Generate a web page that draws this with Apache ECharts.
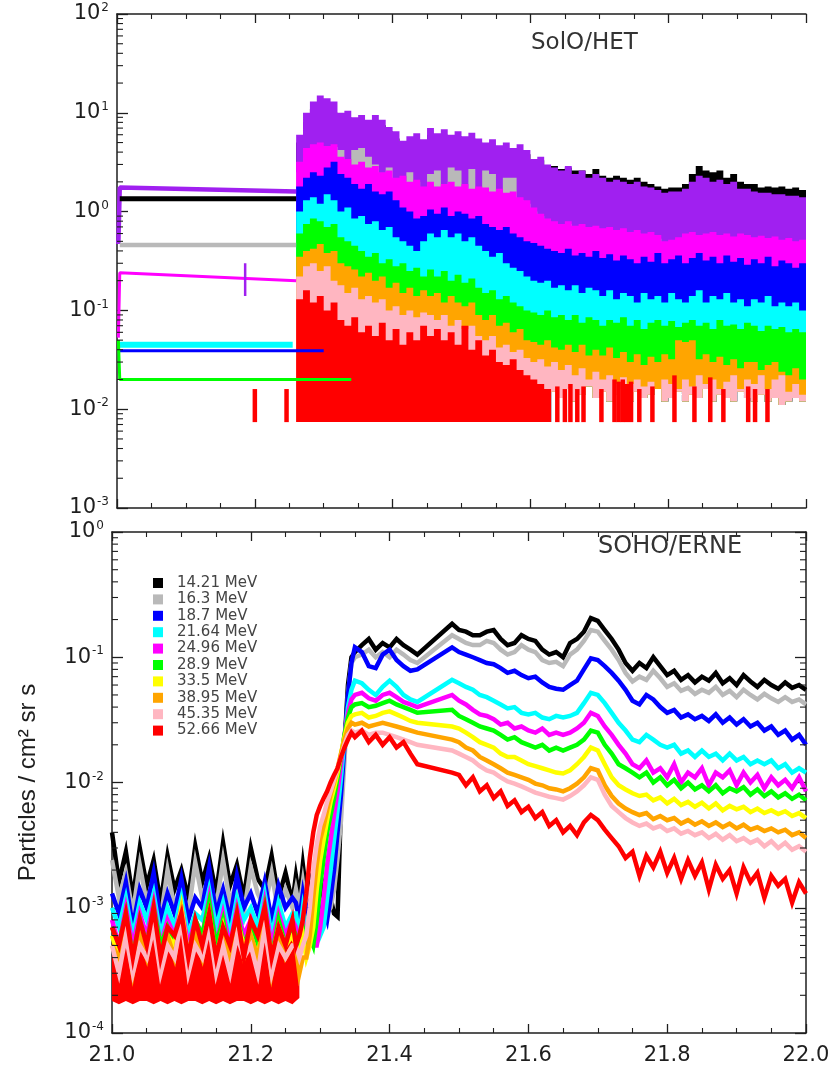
<!DOCTYPE html>
<html>
<head>
<meta charset="utf-8">
<title>SolO/HET and SOHO/ERNE proton intensities</title>
<script src="https://cdn.jsdelivr.net/npm/echarts/dist/echarts.min.js"></script>
<style>
  html, body { margin: 0; padding: 0; background: #ffffff; }
  #chart { width: 833px; height: 1079px; }
</style>
</head>
<body>
<div id="chart"></div>
<script>
// ---------------- SolO/HET (upper panel) ----------------
// bin centres (day of month), each bin 0.01 day wide
const hetTime = [
  21.265,21.275,21.285,21.295,21.305,21.315,21.325,21.335,21.345,21.355,
  21.365,21.375,21.385,21.395,21.405,21.415,21.425,21.435,21.445,21.455,
  21.465,21.475,21.485,21.495,21.505,21.515,21.525,21.535,21.545,21.555,
  21.565,21.575,21.585,21.595,21.605,21.615,21.625,21.635,21.645,21.655,
  21.665,21.675,21.685,21.695,21.705,21.715,21.725,21.735,21.745,21.755,
  21.765,21.775,21.785,21.795,21.805,21.815,21.825,21.835,21.845,21.855,
  21.865,21.875,21.885,21.895,21.905,21.915,21.925,21.935,21.945,21.955,
  21.965,21.975,21.985,21.995
];
// upper envelope of each channel per bin
const hetBlack = [
  5,8,11,12,11,10,8.5,9,7.5,8,
  7,8,7.5,6.5,5.5,4.5,5,5.2,4.8,6,
  5.5,6,5.2,5.8,5,5.5,5.0,4.5,4.6,4.0,
  4.3,4.0,4.2,3.8,3.0,3.3,2.9,2.9,2.7,2.8,
  2.6,2.6,2.4,2.7,2.3,2.2,2.3,2.2,2.1,2.2,
  2.0,1.9,1.8,1.7,1.75,1.75,1.9,2.4,2.9,2.6,
  2.5,2.6,2.2,2.4,2.0,1.9,1.9,1.75,1.8,1.75,
  1.8,1.7,1.75,1.65
];
const hetPurple = [
  6,10,13,15,14,13,10,10.5,9,9.5,
  8.5,9.5,8.5,7.2,6.5,5.2,5.8,6.2,5.4,7.0,
  6.2,6.8,6.0,6.5,5.8,6.3,5.5,5.0,5.4,4.7,
  5.0,4.4,4.8,4.2,3.4,3.6,3.0,2.8,2.6,2.9,
  2.4,2.6,2.2,2.4,2.2,2.0,2.1,2.0,1.9,2.0,
  1.8,1.75,1.65,1.55,1.6,1.6,1.7,2.0,2.3,2.2,
  2.0,2.1,1.9,2.0,1.7,1.7,1.6,1.55,1.55,1.5,
  1.5,1.45,1.45,1.4
];
const hetGrey = [
  2.5,3.5,4.0,4.2,4.0,4.5,4.2,3.0,4.2,4.4,
  3.6,3.0,2.4,2.8,2.0,2.0,2.5,2.0,1.7,2.4,
  2.6,1.7,2.8,2.6,1.7,2.7,1.6,2.6,2.4,1.5,
  2.2,2.2,1.3,1.2,1.0,0.9,0.8,0.75,0.7,0.75,
  0.68,0.7,0.65,0.68,0.62,0.65,0.6,0.62,0.58,0.6,
  0.55,0.57,0.53,0.46,0.48,0.5,0.55,0.57,0.53,0.55,
  0.57,0.53,0.55,0.5,0.55,0.53,0.5,0.52,0.5,0.5,
  0.48,0.5,0.46,0.48
];
const hetMagenta = [
  3.2,4.4,4.8,5.0,4.6,4.8,3.6,3.4,3.0,3.2,
  2.8,2.9,2.5,2.6,2.2,2.3,2.0,2.1,1.8,2.0,
  1.8,1.9,2.0,1.8,1.9,1.7,1.8,1.75,1.6,1.7,
  1.55,1.6,1.4,1.3,1.1,0.95,0.85,0.8,0.75,0.8,
  0.72,0.75,0.7,0.72,0.68,0.7,0.65,0.68,0.62,0.65,
  0.6,0.62,0.58,0.5,0.52,0.55,0.6,0.62,0.58,0.6,
  0.62,0.58,0.6,0.56,0.6,0.58,0.55,0.57,0.54,0.56,
  0.52,0.54,0.5,0.52
];
const hetBlue = [
  1.8,2.2,2.5,2.3,2.8,3.2,2.4,2.2,1.9,1.7,
  1.9,1.6,1.5,1.6,1.3,1.1,1.0,0.85,0.9,1.05,
  0.95,1.1,0.9,1.0,0.95,0.85,0.9,0.75,0.7,0.65,
  0.7,0.6,0.55,0.5,0.48,0.45,0.42,0.4,0.38,0.42,
  0.36,0.38,0.35,0.4,0.34,0.37,0.32,0.36,0.33,0.3,
  0.35,0.31,0.38,0.3,0.33,0.36,0.3,0.34,0.38,0.32,
  0.35,0.3,0.36,0.31,0.34,0.29,0.33,0.3,0.35,0.28,
  0.32,0.3,0.27,0.3
];
const hetCyan = [
  1.0,1.3,1.4,1.2,1.5,1.3,1.0,1.1,0.85,0.9,
  0.75,0.8,0.65,0.7,0.55,0.5,0.45,0.4,0.5,0.6,
  0.55,0.65,0.55,0.6,0.5,0.55,0.45,0.4,0.35,0.38,
  0.3,0.27,0.25,0.22,0.2,0.19,0.2,0.17,0.18,0.16,
  0.18,0.15,0.17,0.16,0.14,0.16,0.13,0.15,0.14,0.12,
  0.15,0.13,0.14,0.12,0.15,0.13,0.12,0.14,0.16,0.12,
  0.14,0.13,0.15,0.12,0.13,0.11,0.13,0.12,0.14,0.11,
  0.12,0.11,0.12,0.1
];
const hetGreen = [
  0.6,0.75,0.85,0.8,0.7,0.75,0.55,0.5,0.45,0.4,
  0.35,0.38,0.3,0.33,0.28,0.3,0.25,0.27,0.22,0.26,
  0.22,0.25,0.2,0.23,0.19,0.21,0.17,0.15,0.16,0.13,
  0.14,0.12,0.11,0.1,0.095,0.09,0.1,0.085,0.09,0.08,
  0.09,0.075,0.085,0.08,0.07,0.08,0.075,0.085,0.07,0.08,
  0.065,0.075,0.08,0.07,0.078,0.068,0.075,0.08,0.07,0.075,
  0.065,0.08,0.07,0.072,0.065,0.075,0.07,0.062,0.07,0.065,
  0.068,0.06,0.065,0.06
];
const hetOrange = [
  0.35,0.4,0.42,0.47,0.38,0.4,0.3,0.28,0.26,0.22,
  0.24,0.2,0.22,0.17,0.19,0.15,0.17,0.14,0.16,0.14,
  0.15,0.12,0.14,0.12,0.11,0.12,0.09,0.08,0.09,0.07,
  0.075,0.06,0.065,0.05,0.048,0.045,0.05,0.042,0.04,0.045,
  0.038,0.045,0.035,0.04,0.035,0.042,0.033,0.038,0.03,0.036,
  0.028,0.034,0.03,0.036,0.032,0.05,0.048,0.05,0.032,0.036,
  0.03,0.034,0.028,0.032,0.026,0.03,0.03,0.025,0.028,0.03,
  0.024,0.022,0.026,0.02
];
const hetPink = [
  0.22,0.28,0.3,0.25,0.28,0.2,0.18,0.15,0.17,0.13,
  0.14,0.12,0.13,0.1,0.11,0.09,0.1,0.085,0.095,0.09,
  0.08,0.09,0.07,0.08,0.065,0.07,0.055,0.05,0.055,0.042,
  0.045,0.038,0.04,0.033,0.03,0.032,0.027,0.03,0.025,0.028,
  0.022,0.026,0.02,0.024,0.02,0.022,0.018,0.021,0.018,0.02,
  0.017,0.019,0.016,0.02,0.018,0.016,0.02,0.017,0.022,0.018,
  0.02,0.016,0.019,0.022,0.016,0.02,0.018,0.022,0.016,0.02,
  0.022,0.015,0.018,0.014
];
// red channel is continuous only up to 21.63, afterwards isolated counts
const hetRed = [
  0.13,0.16,0.12,0.14,0.1,0.12,0.08,0.07,0.085,0.06,
  0.07,0.055,0.075,0.05,0.065,0.045,0.06,0.05,0.07,0.055,
  0.065,0.05,0.06,0.045,0.07,0.04,0.05,0.035,0.04,0.03,
  0.028,0.032,0.025,0.022,0.02,0.018,0.016
];
// lower envelope shared by all channels
const hetFloor = [
  0.0074,0.0074,0.0074,0.0074,0.0074,0.0074,0.0074,0.0074,0.0074,0.0074,
  0.0074,0.0074,0.0074,0.0074,0.0074,0.0074,0.0074,0.0074,0.0074,0.0074,
  0.0074,0.0074,0.0074,0.0074,0.0074,0.0074,0.0074,0.0074,0.0074,0.0074,
  0.0074,0.0074,0.0074,0.0074,0.0074,0.0074,0.0074,
  0.015,0.013,0.016,0.012,0.014,0.017,0.013,0.015,0.012,0.014,
  0.016,0.012,0.015,0.013,0.014,0.016,0.012,0.013,0.015,0.012,
  0.014,0.013,0.016,0.012,0.014,0.013,0.012,0.015,0.013,0.012,
  0.014,0.012,0.013,0.011,0.012,0.013,0.012
];
// isolated red-channel counts
const hetSpikeT = [21.200,21.246,21.639,21.650,21.658,21.668,21.677,21.703,21.722,21.728,21.734,
                   21.740,21.746,21.758,21.777,21.809,21.838,21.861,21.880,21.916,21.926,21.944];
const hetSpikeTop = [0.016,0.016,0.017,0.016,0.018,0.016,0.017,0.016,0.02,0.019,0.02,
                     0.018,0.019,0.016,0.017,0.022,0.017,0.021,0.016,0.017,0.016,0.016];
const hetSpikeBase = 0.0074;
// pre-event background levels
const hetPrePurple  = [[21.002,0.47],[21.004,1.75],[21.26,1.6]];
const hetPreBlack   = [[21.004,1.35],[21.26,1.35]];
const hetPreGrey    = [[21.004,0.46],[21.26,0.46]];
const hetPreMagenta = [[21.002,0.053],[21.004,0.24],[21.26,0.2]];
const hetPreCyan    = [[21.004,0.045],[21.255,0.045]];
const hetPreBlue    = [[21.004,0.039],[21.30,0.039]];
const hetPreGreen   = [[21.002,0.05],[21.004,0.02],[21.34,0.02]];
const hetErrBar     = [[21.186,0.3],[21.186,0.14]];

// ---------------- SOHO/ERNE (lower panel) ----------------
const ernTime = [
  21.00,21.01,21.02,21.03,21.04,21.05,21.06,21.07,21.08,21.09,21.10,21.11,21.12,21.13,
  21.14,21.15,21.16,21.17,21.18,21.19,21.20,21.21,21.22,21.23,21.24,21.25,21.26,
  21.265,21.27,21.275,21.28,21.285,21.29,21.295,21.30,21.305,21.31,21.315,21.32,21.325,
  21.33,21.335,21.34,21.345,21.35,
  21.36,21.37,21.38,21.39,21.40,21.41,21.42,21.43,21.44,21.45,21.46,21.47,21.48,21.49,
  21.50,21.51,21.52,21.53,21.54,21.55,21.56,21.57,21.58,21.59,21.60,21.61,21.62,21.63,
  21.64,21.65,21.66,21.67,21.68,21.69,21.70,21.71,21.72,21.73,21.74,21.75,21.76,21.77,
  21.78,21.79,21.80,21.81,21.82,21.83,21.84,21.85,21.86,21.87,21.88,21.89,21.90,21.91,
  21.92,21.93,21.94,21.95,21.96,21.97,21.98,21.99,22.00
];
const ernLabels = ['14.21 MeV','16.3 MeV','18.7 MeV','21.64 MeV','24.96 MeV',
                   '28.9 MeV','33.5 MeV','38.95 MeV','45.35 MeV','52.66 MeV'];
const ern1421 = [
  .0040,.0016,.0028,.0012,.0030,.0015,.0024,.0011,.0026,.0014,.0020,.0012,.0031,.0016,.0025,.0013,.0033,.0015,.0022,.0012,.0030,.0017,.0014,.0026,.0012,.0019,.0011,
  .0018,.0012,.0022,.0013,.0016,.0011,.0019,.0012,.0015,.0010,.0012,.0009,.00085,.007,.02,.06,.10,.11,
  .125,.14,.115,.13,.12,.14,.125,.115,.105, null,null,null,null,
  .185,.165,.16,.15,.15,.16,.165,.14,.125,.13,.15,.14,
  .135,.115,.105,.11,.1,.13,.14,.16,.205,.195,
  .165,.14,.115,.09,.078,.09,.082,.1,.085,.072,
  .078,.066,.072,.063,.07,.065,.075,.062,.068,.06,
  .072,.064,.058,.066,.06,.056,.063,.057,.06,.055
];
const ern163 = [
  .0024,.0012,.0019,.0009,.0022,.0011,.0016,.0008,.0020,.0010,.0015,.0009,.0023,.0012,.0018,.0010,.0024,.0011,.0016,.0009,.0021,.0013,.0010,.0019,.0009,.0014,.0010,
  .0014,.0010,.0016,.0010,.0013,.0009,.0015,.0010,.0012,.0009,.0010,.0014,.0025,.005,.015,.05,.09,.1,
  .105,.115,.1,.11,.1,.115,.105,.095,.09, null,null,null,null,
  .15,.14,.13,.125,.125,.135,.13,.115,.105,.11,.125,.115,
  .11,.095,.09,.092,.085,.105,.115,.135,.165,.16,
  .135,.115,.095,.075,.064,.07,.066,.078,.068,.058,
  .062,.054,.057,.051,.055,.052,.058,.05,.054,.048,
  .055,.05,.046,.051,.047,.044,.048,.044,.046,.042
];
const ern187 = [
  .0013,.0009,.0016,.0007,.0014,.0010,.0019,.0008,.0013,.0009,.0017,.0008,.0012,.0010,.0021,.0009,.0014,.0008,.0018,.0010,.0013,.0009,.0016,.0008,.0015,.0010,.0012,
  .0011,.0008,.0013,.0009,.0011,.0008,.0012,.0009,.0010,.0008,.0012,.002,.004,.008,.02,.05,.09,.12,
  .11,.085,.082,.105,.115,.095,.085,.078,.08, null,null,null,null,
  .12,.11,.105,.1,.095,.09,.088,.082,.075,.078,.072,.068,
  .07,.063,.058,.056,.055,.06,.065,.08,.098,.095,
  .085,.075,.065,.055,.045,.042,.05,.046,.04,.036,
  .038,.033,.035,.032,.034,.031,.035,.03,.033,.029,
  .032,.028,.03,.026,.028,.024,.026,.022,.024,.02
];
const ern2164 = [
  .0010,.0007,.0012,.0006,.0011,.0008,.0013,.0006,.0010,.0007,.0012,.0006,.0009,.0008,.0014,.0007,.0011,.0006,.0012,.0008,.0010,.0007,.0013,.0006,.0011,.0007,.0009,
  .0009,.0006,.0010,.0007,.0009,.0006,.0008,.0006,.0007,.0012,.002,.0035,.006,.011,.022,.04,.055,.065,
  .062,.055,.05,.058,.065,.058,.05,.046,.044, null,null,null,null,
  .066,.062,.058,.055,.05,.048,.045,.042,.039,.04,.036,.035,
  .036,.033,.032,.034,.033,.034,.036,.043,.052,.05,
  .043,.036,.03,.026,.022,.021,.024,.022,.02,.019,
  .02,.017,.018,.016,.018,.016,.017,.015,.017,.015,
  .016,.014,.015,.014,.015,.013,.014,.012,.013,.012
];
const ern2496 = [
  .0008,.0005,.0010,.0005,.0009,.0006,.0011,.0005,.0008,.0006,.0010,.0005,.0008,.0006,.0012,.0005,.0009,.0005,.0010,.0006,.0008,.0005,.0011,.0005,.0009,.0006,.0008,
  .0007,.0005,.0008,.0005,.0007,.0005,.0005,.0007,.0012,.0022,.0035,.0055,.0085,.014,.024,.036,.046,.05,
  .052,.047,.045,.05,.052,.048,.044,.042,.04, null,null,null,null,
  .05,.045,.042,.038,.035,.034,.032,.029,.03,.027,.028,.026,
  .025,.027,.024,.025,.024,.025,.027,.03,.036,.034,
  .028,.024,.02,.017,.014,.013,.015,.012,.013,.011,
  .014,.01,.012,.011,.013,.0095,.012,.011,.0125,.0095,
  .012,.01,.0115,.009,.011,.0095,.0105,.009,.011,.0085
];
const ern289 = [
  .0007,.0005,.0009,.0004,.0008,.0005,.0010,.0005,.0007,.0005,.0009,.0004,.0008,.0006,.0011,.0005,.0008,.0004,.0009,.0005,.0007,.0005,.0010,.0004,.0008,.0005,.0007,
  .0006,.0004,.0007,.0005,.0006,.0005,.0008,.0015,.0025,.004,.0055,.0075,.011,.016,.024,.033,.04,.042,
  .043,.04,.041,.043,.045,.042,.04,.038,.036, null,null,null,null,
  .038,.034,.032,.03,.028,.027,.026,.024,.022,.023,.021,.02,
  .019,.02,.018,.019,.018,.019,.02,.022,.026,.025,
  .02,.017,.014,.013,.012,.011,.012,.01,.011,.0095,
  .0105,.009,.01,.0088,.0095,.0085,.0095,.0082,.009,.0085,
  .0092,.008,.0088,.0078,.0085,.0076,.0082,.0074,.008,.0072
];
const ern335 = [
  .0006,.0004,.0008,.0004,.0007,.0005,.0009,.0004,.0006,.0005,.0010,.0004,.0007,.0005,.0009,.0004,.0007,.0004,.0008,.0005,.0006,.0004,.0009,.0004,.0007,.0005,.0006,
  .0005,.0004,.0006,.0004,.0005,.0007,.0014,.0024,.0035,.005,.007,.009,.012,.017,.023,.03,.034,.035,
  .036,.033,.034,.036,.037,.035,.033,.031,.03, null,null,null,null,
  .028,.027,.025,.023,.021,.02,.019,.017,.016,.016,.015,.014,
  .0135,.013,.0125,.012,.0118,.0125,.014,.016,.019,.018,
  .014,.011,.0095,.0088,.0082,.0078,.008,.0072,.0076,.0068,
  .0074,.0066,.007,.0064,.0069,.0062,.0068,.006,.0065,.0061,
  .0064,.0058,.0062,.0057,.006,.0056,.0059,.0054,.0057,.0052
];
const ern3895 = [
  .0005,.0004,.0007,.0003,.0006,.0004,.0008,.0004,.0006,.0004,.0009,.0004,.0006,.0004,.0008,.0004,.0006,.0004,.0007,.0004,.0006,.0004,.0008,.0003,.0006,.0004,.0005,
  .0005,.0003,.0004,.0004,.0006,.0012,.0022,.0035,.0045,.006,.008,.01,.013,.017,.022,.027,.03,.029,
  .03,.028,.029,.03,.029,.028,.027,.026,.025, null,null,null,null,
  .022,.021,.019,.018,.016,.015,.014,.013,.012,.0115,.011,.0105,
  .0098,.0095,.009,.0088,.0085,.009,.0098,.011,.013,.0125,
  .0095,.0078,.0068,.0062,.0058,.0055,.0057,.0051,.0054,.005,
  .0052,.0047,.005,.0046,.0049,.0045,.0048,.0044,.0047,.0043,
  .0046,.0042,.0044,.0041,.0043,.004,.0042,.0038,.004,.0036
];
const ern4535 = [
  .0005,.0003,.0006,.0003,.0005,.0004,.0007,.0003,.0005,.0004,.0008,.0003,.0005,.0004,.0007,.0003,.0005,.0003,.0006,.0004,.0005,.0003,.0007,.0003,.0005,.0004,.0005,
  .0005,.0004,.0005,.0006,.001,.002,.0032,.0045,.0055,.007,.0085,.0105,.013,.016,.02,.024,.026,.025,
  .026,.024,.025,.025,.024,.023,.022,.021,.02, null,null,null,null,
  .018,.017,.016,.015,.0135,.0125,.012,.011,.0102,.0098,.0093,.0088,
  .0083,.008,.0077,.0075,.0073,.0078,.0085,.0095,.011,.0105,
  .008,.0065,.0058,.0052,.0048,.0045,.0047,.0043,.0045,.0041,
  .0043,.0039,.0041,.0038,.004,.0036,.0039,.0035,.0038,.0034,
  .0036,.0033,.0035,.0031,.0034,.003,.0033,.0029,.0031,.0028
];
const ern5266 = [
  .0007,.0005,.0009,.0004,.0008,.0005,.0010,.0004,.0007,.0006,.0009,.0004,.0008,.0005,.0009,.0004,.0007,.0005,.0009,.0004,.0008,.0006,.0010,.0004,.0007,.0005,.0008,
  .0005,.0006,.0008,.0013,.0025,.004,.0055,.0065,.0075,.0085,.01,.0115,.013,.016,.019,.022,.025,.023,
  .026,.021,.024,.02,.023,.019,.021,.017,.014, null,null,null,null,
  .012,.0115,.0095,.011,.0085,.0095,.0075,.0085,.0065,.0072,.0058,.0064,
  .0052,.0058,.0045,.005,.004,.0045,.0038,.0048,.0055,.005,
  .0042,.0036,.0031,.0025,.0028,.0018,.0026,.0021,.0028,.0019,
  .0025,.0017,.0024,.0018,.0023,.0014,.0022,.0017,.002,.0013,
  .0021,.0016,.0019,.0012,.0018,.0015,.0017,.0011,.0016,.0013
];
// lowest background level of the 52.66 MeV channel before onset (21.00-21.27)
const ern5266Floor = [
  .00018,.00017,.00018,.00017,.00018,.00018,.00017,.00018,.00017,.00018,
  .00017,.00018,.00018,.00017,.00018,.00017,.00018,.00017,.00018,.00018,
  .00017,.00018,.00017,.00018,.00017,.00018,.00017,.00018,.00019
];

// axis ticks
const xTicks = [21.0, 21.2, 21.4, 21.6, 21.8, 22.0];
const hetDecades = [-3, -2, -1, 0, 1, 2];
const ernDecades = [-4, -3, -2, -1, 0];

// ---------------- drawing ----------------
const FONT = '"Liberation Sans", Arial, Helvetica, sans-serif';
const NUMFONT = '"DejaVu Sans", "Liberation Sans", sans-serif';
const INK = '#1e1e1e';
const BIN_HALF = 0.005;

const colBlack = '#000000', colGrey = '#b9b9b9', colBlue = '#0000ff', colCyan = '#00ffff',
      colMagenta = '#ff00ff', colGreen = '#00ff00', colYellow = '#ffff00', colOrange = '#ffa500',
      colPink = '#ffb6c1', colRed = '#ff0000', colPurple = '#a020f0';

function minorValues(decades) {
  const out = [];
  for (let i = 0; i < decades.length - 1; i++) {
    for (let m = 2; m <= 9; m++) out.push(m * Math.pow(10, decades[i]));
  }
  return out;
}

function expLabel(v) {
  const e = Math.round(Math.log10(v));
  return '{b|10}{e|' + e + '}';
}
const labelRich = {
  b: { fontSize: 21, color: INK, fontFamily: NUMFONT },
  e: { fontSize: 12, color: INK, fontFamily: NUMFONT, padding: [0, 0, 12, 1] }
};

function xAxisDef(gridIndex, position, showLabels) {
  return {
    type: 'value', gridIndex, position, min: 21, max: 22, interval: 0.2,
    axisLine: { show: true, onZero: false, lineStyle: { color: INK, width: 1.5 } },
    axisTick: { show: true, inside: true, length: 9, lineStyle: { color: INK, width: 1.3 } },
    minorTick: { show: true, splitNumber: 4, length: 5, lineStyle: { color: INK, width: 1.1 } },
    splitLine: { show: false }, minorSplitLine: { show: false },
    axisLabel: {
      show: showLabels, margin: 12, fontSize: 21, color: INK, fontFamily: NUMFONT,
      formatter: v => (xTicks.some(t => Math.abs(t - v) < 1e-6) ? v.toFixed(1) : '')
    }
  };
}

function yAxisDef(gridIndex, position, min, max, showLabels, extra) {
  return Object.assign({
    type: 'log', logBase: 10, gridIndex, position, min, max,
    axisLine: { show: true, onZero: false, lineStyle: { color: INK, width: 1.5 } },
    axisTick: { show: true, inside: true, length: 11, lineStyle: { color: INK, width: 1.3 } },
    splitLine: { show: false },
    axisLabel: { show: showLabels, margin: 8, formatter: expLabel, rich: labelRich }
  }, extra || {});
}

// minor log ticks drawn along the frame
function minorTickSeries(xi, yi, decades, sides) {
  const vals = minorValues(decades);
  return {
    type: 'custom', xAxisIndex: xi, yAxisIndex: yi, silent: true, z: 5,
    data: [[21.5, Math.pow(10, decades[1])]],
    renderItem(params, api) {
      const children = [];
      vals.forEach(v => {
        sides.forEach(side => {
          const p = api.coord([side === 'left' ? 21 : 22, v]);
          const dx = side === 'left' ? 6 : -6;
          children.push({ type: 'line', shape: { x1: p[0], y1: p[1], x2: p[0] + dx, y2: p[1] },
                          style: { stroke: INK, lineWidth: 1.1 } });
        });
      });
      return { type: 'group', children };
    }
  };
}

// histogram-style band between a lower and an upper envelope
function stepBand(name, upper, lower, color) {
  return {
    name, type: 'custom', xAxisIndex: 0, yAxisIndex: 0, silent: true,
    data: [[hetTime[0], upper[0]]],
    renderItem(params, api) {
      const pts = [];
      for (let k = 0; k < upper.length; k++) {
        pts.push(api.coord([hetTime[k] - BIN_HALF, upper[k]]));
        pts.push(api.coord([hetTime[k] + BIN_HALF, upper[k]]));
      }
      for (let k = upper.length - 1; k >= 0; k--) {
        pts.push(api.coord([hetTime[k] + BIN_HALF, lower[k]]));
        pts.push(api.coord([hetTime[k] - BIN_HALF, lower[k]]));
      }
      return { type: 'polygon', shape: { points: pts }, style: { fill: color } };
    }
  };
}

function hetLine(name, data, color, width) {
  return {
    name, type: 'line', xAxisIndex: 0, yAxisIndex: 0, data, showSymbol: false, silent: true,
    lineStyle: { color, width, cap: 'butt' }, itemStyle: { color }, z: 3
  };
}

function ernLine(name, values, color) {
  const data = [];
  values.forEach((v, i) => { if (v !== null) data.push([ernTime[i], v]); });
  return {
    name, type: 'line', xAxisIndex: 2, yAxisIndex: 1, data, showSymbol: false, silent: true,
    lineStyle: { color, width: 4.5, join: 'miter' }, itemStyle: { color }
  };
}

const series = [
  minorTickSeries(0, 0, hetDecades, ['left']),
  minorTickSeries(2, 1, ernDecades, ['left', 'right']),

  // SolO/HET channels, drawn back to front
  stepBand('HET black', hetBlack, hetFloor, colBlack),
  stepBand('HET purple', hetPurple, hetFloor, colPurple),
  stepBand('HET grey', hetGrey, hetFloor, colGrey),
  stepBand('HET magenta', hetMagenta, hetFloor, colMagenta),
  stepBand('HET blue', hetBlue, hetFloor, colBlue),
  stepBand('HET cyan', hetCyan, hetFloor, colCyan),
  stepBand('HET green', hetGreen, hetFloor, colGreen),
  stepBand('HET orange', hetOrange, hetFloor, colOrange),
  stepBand('HET pink', hetPink, hetFloor, colPink),
  stepBand('HET red', hetRed, hetFloor.slice(0, hetRed.length), colRed),
  {
    name: 'HET red counts', type: 'custom', xAxisIndex: 0, yAxisIndex: 0, silent: true,
    data: hetSpikeT.map((t, i) => [t, hetSpikeTop[i]]),
    renderItem(params, api) {
      const top = api.coord([api.value(0), api.value(1)]);
      const bot = api.coord([api.value(0), hetSpikeBase]);
      return { type: 'rect', shape: { x: top[0] - 2.2, y: top[1], width: 4.5, height: bot[1] - top[1] },
               style: { fill: colRed } };
    }
  },
  hetLine('HET pre purple', hetPrePurple, colPurple, 4.5),
  hetLine('HET pre black', hetPreBlack, colBlack, 5),
  hetLine('HET pre grey', hetPreGrey, colGrey, 4.5),
  hetLine('HET pre magenta', hetPreMagenta, colMagenta, 3),
  hetLine('HET pre cyan', hetPreCyan, colCyan, 6),
  hetLine('HET pre blue', hetPreBlue, colBlue, 3),
  hetLine('HET pre green', hetPreGreen, colGreen, 3),
  hetLine('HET error', hetErrBar, colPurple, 2.5),

  // SOHO/ERNE channels
  ernLine(ernLabels[0], ern1421, colBlack),
  ernLine(ernLabels[1], ern163, colGrey),
  ernLine(ernLabels[2], ern187, colBlue),
  ernLine(ernLabels[3], ern2164, colCyan),
  ernLine(ernLabels[4], ern2496, colMagenta),
  ernLine(ernLabels[5], ern289, colGreen),
  ernLine(ernLabels[6], ern335, colYellow),
  ernLine(ernLabels[7], ern3895, colOrange),
  ernLine(ernLabels[8], ern4535, colPink),
  ernLine(ernLabels[9], ern5266, colRed),
  {
    name: 'ERNE 52.66 background', type: 'custom', xAxisIndex: 2, yAxisIndex: 1, silent: true,
    data: [[ernTime[0], ern5266[0]]],
    renderItem(params, api) {
      const n = ern5266Floor.length;
      const pts = [];
      for (let k = 0; k < n; k++) pts.push(api.coord([ernTime[k], ern5266[k]]));
      for (let k = n - 1; k >= 0; k--) pts.push(api.coord([ernTime[k], ern5266Floor[k]]));
      return { type: 'polygon', shape: { points: pts }, style: { fill: colRed } };
    }
  }
];

const option = {
  animation: false,
  backgroundColor: '#ffffff',
  textStyle: { fontFamily: FONT },
  grid: [
    { left: 117, top: 14, width: 689, height: 494, outerBoundsMode: 'none' },
    { left: 112, top: 532, width: 694, height: 501, outerBoundsMode: 'none' }
  ],
  title: [
    { text: 'SolO/HET', left: 531, top: 32, padding: 0,
      textStyle: { fontSize: 23, fontWeight: 'normal', color: '#333', fontFamily: NUMFONT } },
    { text: 'SOHO/ERNE', left: 598, top: 535, padding: 0,
      textStyle: { fontSize: 24, fontWeight: 'normal', color: '#333', fontFamily: NUMFONT } }
  ],
  legend: {
    data: ernLabels, orient: 'vertical', left: 153, top: 575, padding: 0,
    icon: 'rect', itemWidth: 10, itemHeight: 10, itemGap: 0.4, selectedMode: false,
    textStyle: { fontSize: 15, lineHeight: 16, color: '#444', fontFamily: NUMFONT, padding: [0, 0, 0, 9] }
  },
  xAxis: [
    xAxisDef(0, 'bottom', false),
    xAxisDef(0, 'top', false),
    xAxisDef(1, 'bottom', true),
    xAxisDef(1, 'top', false)
  ],
  yAxis: [
    yAxisDef(0, 'left', 1e-3, 1e2, true),
    yAxisDef(1, 'left', 1e-4, 1, true, {
      name: 'Particles / cm² sr s', nameLocation: 'middle', nameGap: 72, nameRotate: 90,
      nameTextStyle: { fontSize: 24, color: INK, fontFamily: FONT }
    }),
    yAxisDef(1, 'right', 1e-4, 1, false)
  ],
  series
};

const chart = echarts.init(document.getElementById('chart'));
chart.setOption(option);
</script>
</body>
</html>
